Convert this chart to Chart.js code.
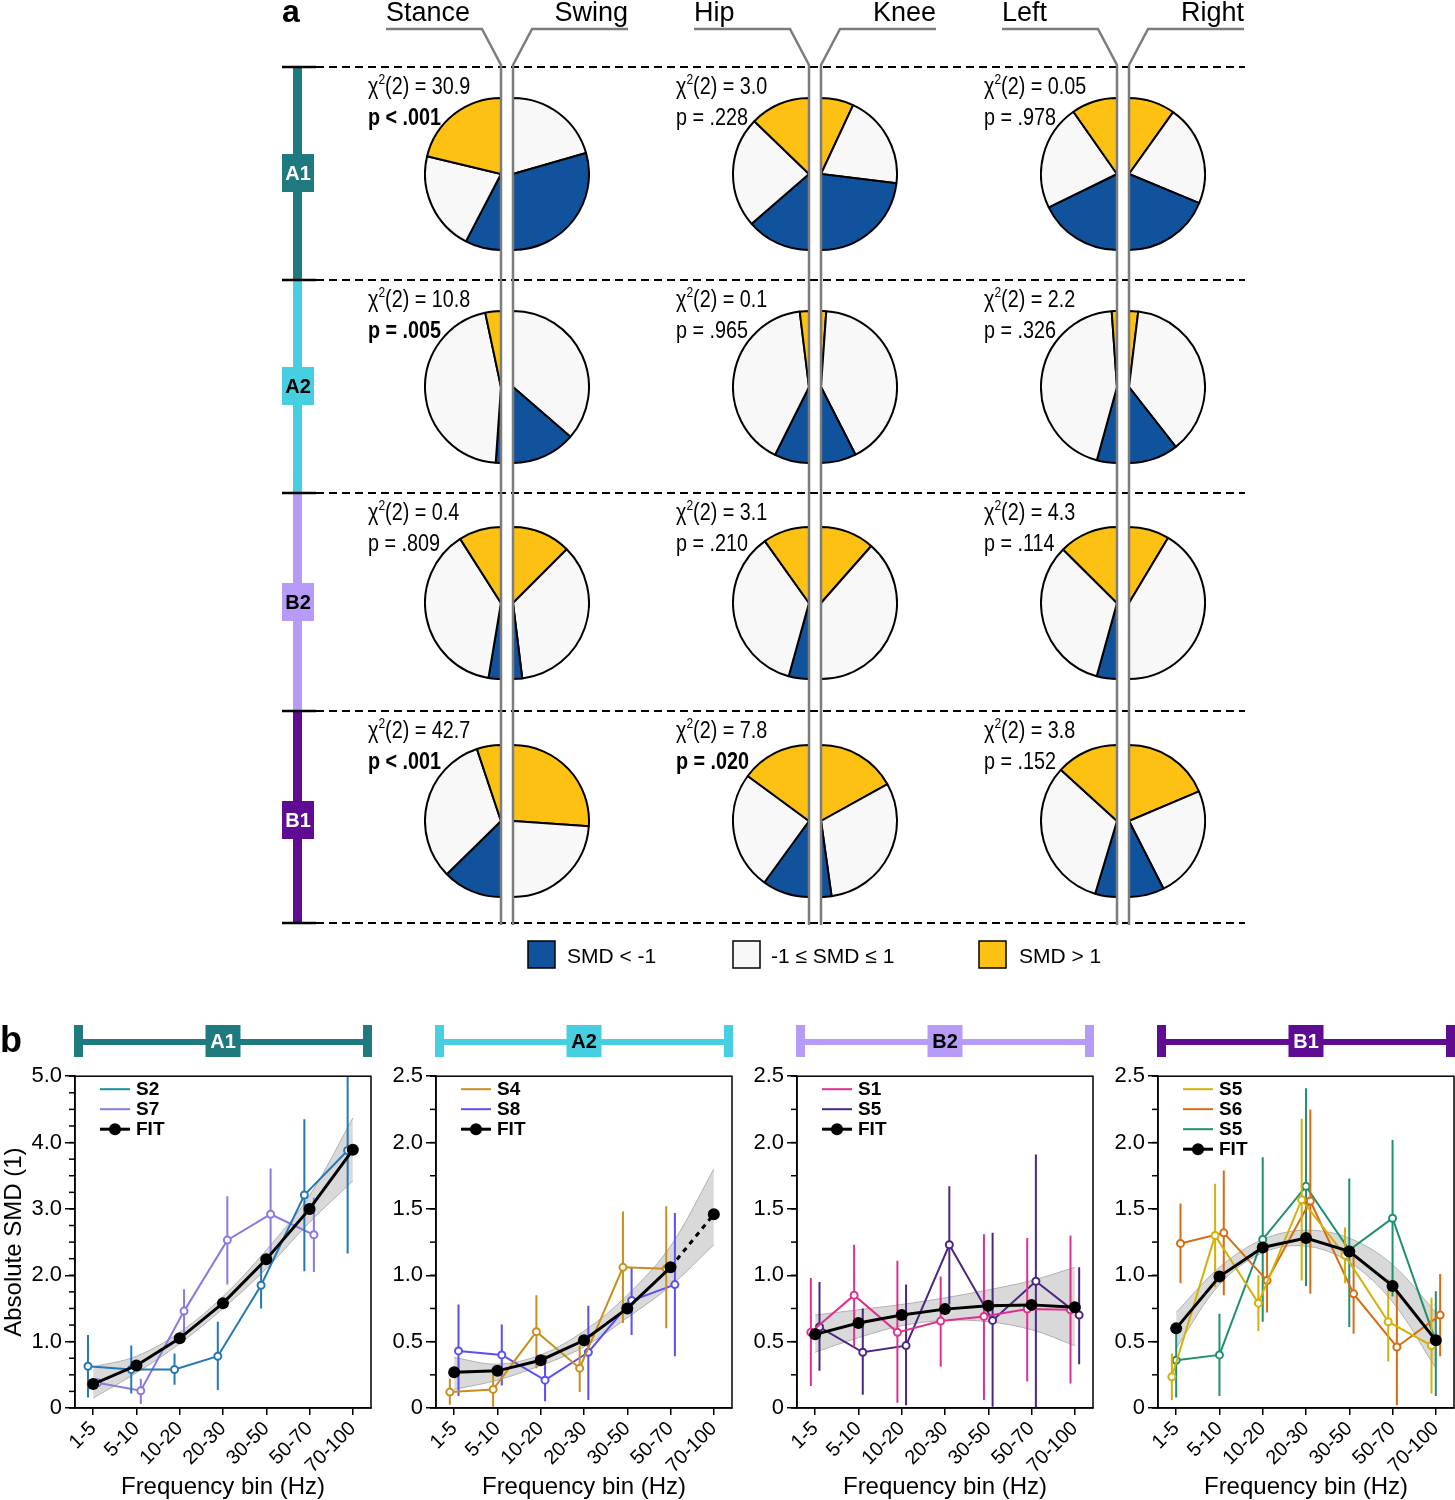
<!DOCTYPE html>
<html>
<head>
<meta charset="utf-8">
<script src="https://cdn.jsdelivr.net/npm/chart.js@4.4.1/dist/chart.umd.min.js"></script>
<style>
body { margin: 0; background: #fff; width: 1455px; height: 1500px; position: relative; overflow: hidden; }
canvas { position: absolute; }
#deco { position: absolute; left: 0; top: 0; z-index: 5; pointer-events: none; font-family: "Liberation Sans", Arial, sans-serif; }
</style>
</head>
<body>
<svg id="deco" width="1455" height="1500" xmlns="http://www.w3.org/2000/svg"></svg>
<script>
// ---- part a data: each half pie as [SMD < -1, -1..1, SMD > 1], degrees of the half circle
const groups = ['A1', 'A2', 'B2', 'B1'];
const groupColors = ['#1f7a80', '#45cfe0', '#b69bf9', '#5f0c92'];
const groupTextColors = ['#fff', '#000', '#000', '#fff'];
const pairNames = [['Stance', 'Swing'], ['Hip', 'Knee'], ['Left', 'Right']];
const pieColors = ['#10539c', '#f8f8f8', '#fdc114'];
const pieLabels = ['SMD < -1', '-1 ≤ SMD ≤ 1', 'SMD > 1'];

const stance = [[27.5, 76, 76.5], [4, 164, 12], [9.5, 138, 32.5], [45.5, 116, 18.5]];
const swing = [[106, 74, 0], [49, 131, 0], [7, 128, 45], [0, 86, 94]];
const hip = [[49, 85, 46], [26.6, 146.4, 7], [15.5, 129, 35.5], [36, 90.3, 53.7]];
const knee = [[83, 72, 25], [27, 149, 4], [0, 138.6, 41.4], [8, 111, 61]];
const leftSide = [[64, 81, 35], [15.4, 160.6, 4], [15.5, 119.3, 45.2], [16.7, 115.6, 47.7]];
const rightSide = [[67.5, 77, 35.5], [38, 135, 7], [0, 149, 31], [27, 86, 67]];

const chiStance = ['30.9', '10.8', '0.4', '42.7'];
const pStance = ['p < .001', 'p = .005', 'p = .809', 'p < .001'];
const chiHip = ['3.0', '0.1', '3.1', '7.8'];
const pHip = ['p = .228', 'p = .965', 'p = .210', 'p = .020'];
const chiSide = ['0.05', '2.2', '4.3', '3.8'];
const pSide = ['p = .978', 'p = .326', 'p = .114', 'p = .152'];

// ---- part b data
const bins = ['1-5', '5-10', '10-20', '20-30', '30-50', '50-70', '70-100'];

const a1Fit = [0.36, 0.64, 1.05, 1.58, 2.24, 3.0, 3.89];
const a1Lo = [0.15, 0.53, 0.97, 1.5, 2.1, 2.8, 3.42];
const a1Hi = [0.62, 0.78, 1.14, 1.68, 2.38, 3.2, 4.37];
const a1S2 = [0.63, 0.58, 0.58, 0.78, 1.85, 3.21, 3.88];
const a1S2Err = [[0.16, 1.1], [0.22, 0.94], [0.35, 0.82], [0.27, 1.3], [1.5, 2.15], [2.06, 4.35], [2.33, 5.3]];
const a1S7 = [0.38, 0.26, 1.46, 2.53, 2.92, 2.61, null];
const a1S7Err = [null, [0.06, 0.44], [1.09, 1.79], [1.86, 3.19], [2.25, 3.61], [2.05, 3.17], null];

const a2Fit = [0.27, 0.28, 0.36, 0.51, 0.75, 1.06, 1.46];
const a2Lo = [0.14, 0.21, 0.32, 0.46, 0.68, 0.92, 1.23];
const a2Hi = [0.38, 0.33, 0.40, 0.58, 0.85, 1.22, 1.80];
const a2S4 = [0.12, 0.14, 0.575, 0.30, 1.06, 1.05, null];
const a2S4Err = [[0.025, 0.22], [0.01, 0.26], [0.3, 0.85], [0.12, 0.47], [0.64, 1.48], [0.6, 1.52], null];
const a2S8 = [0.43, 0.40, 0.21, 0.42, 0.81, 0.93, null];
const a2S8Err = [[0.09, 0.78], [0.17, 0.63], [0.05, 0.4], [0.06, 0.77], [0.55, 1.06], [0.39, 1.47], null];

const b2Fit = [0.555, 0.64, 0.70, 0.745, 0.77, 0.777, 0.76];
const b2Lo = [0.42, 0.53, 0.62, 0.66, 0.65, 0.59, 0.47];
const b2Hi = [0.70, 0.74, 0.78, 0.83, 0.89, 0.96, 1.06];
const b2S1 = [0.57, 0.85, 0.57, 0.655, 0.69, 0.745, 0.74];
const b2S1Err = [[0.165, 0.98], [0.46, 1.23], [0.04, 1.11], [0.31, 0.99], [0.06, 1.31], [0.2, 1.28], [0.185, 1.3]];
const b2S5 = [0.61, 0.42, 0.47, 1.23, 0.66, 0.955, 0.70];
const b2S5Err = [[0.28, 0.95], [0.1, 0.75], [0.02, 0.93], [0.78, 1.67], [0.01, 1.32], [0, 1.91], [0.33, 1.06]];

const b1Fit = [0.6, 0.99, 1.21, 1.28, 1.18, 0.92, 0.51];
const b1Lo = [0.45, 0.93, 1.17, 1.22, 1.1, 0.8, 0.3];
const b1Hi = [0.72, 1.06, 1.27, 1.34, 1.28, 1.08, 0.72];
const b1S5a = [0.235, 1.3, 0.79, 1.57, 1.15, 0.65, 0.47];
const b1S5aErr = [[0.06, 0.41], [0.91, 1.69], [0.58, 1.0], [0.96, 2.18], [0.94, 1.36], [0.35, 0.97], [0.11, 0.83]];
const b1S6 = [1.24, 1.32, 0.96, 1.56, 0.86, 0.46, 0.70];
const b1S6Err = [[0.94, 1.54], [0.85, 1.79], [0.72, 1.22], [0.86, 2.25], [0.56, 1.15], [0.02, 0.88], [0.39, 1.01]];
const b1S5b = [0.36, 0.40, 1.27, 1.67, 1.19, 1.43, 0.5];
const b1S5bErr = [[0.08, 0.58], [0.09, 0.71], [0.65, 1.89], [0.92, 2.41], [0.61, 1.73], [0.84, 2.02], [0.09, 0.88]];

// ---- layout
const FONT = '"Liberation Sans", Arial, sans-serif';
Chart.defaults.font.family = FONT;
Chart.defaults.color = '#000';

const R = 76;
const flatL = [501, 809, 1117];
const flatR = [513, 821, 1129];
const rowTop = [67, 280, 493, 711, 923];
const pieY = [174, 387, 603, 821];
const plotLefts = [75, 436, 797, 1158];
const plotW = 296;

// ---- half pies
function halfPie(edge, cy, vals, side) {
  const cv = document.createElement('canvas');
  const W = R + 2, H = 2 * R + 2;
  cv.width = W; cv.height = H;
  cv.style.left = (side === 'left' ? edge - W + 1 : edge - 1) + 'px';
  cv.style.top = (cy - R - 1) + 'px';
  document.body.appendChild(cv);
  const left = side === 'left';
  new Chart(cv, {
    type: 'pie',
    data: {
      labels: left ? pieLabels : pieLabels.slice().reverse(),
      datasets: [{
        data: left ? vals : vals.slice().reverse(),
        backgroundColor: left ? pieColors : pieColors.slice().reverse(),
        borderColor: '#000',
        borderWidth: 2
      }]
    },
    options: {
      responsive: false, animation: false, events: [],
      rotation: left ? 180 : 0,
      circumference: 180,
      plugins: { legend: { display: false }, tooltip: { enabled: false } }
    }
  });
}

const leftHalves = [stance, hip, leftSide];
const rightHalves = [swing, knee, rightSide];
for (let c = 0; c < 3; c++) {
  for (let r = 0; r < 4; r++) {
    halfPie(flatL[c], pieY[r], leftHalves[c][r], 'left');
    halfPie(flatR[c], pieY[r], rightHalves[c][r], 'right');
  }
}

// ---- line charts (part b)
const errorBars = {
  id: 'errorBars',
  beforeDatasetDraw(chart, args) {
    const ds = chart.data.datasets[args.index];
    if (!ds.err) return;
    const { ctx, chartArea: a, scales: { x, y } } = chart;
    ctx.save();
    ctx.beginPath();
    ctx.rect(a.left, a.top, a.right - a.left, a.bottom - a.top);
    ctx.clip();
    ctx.strokeStyle = ds.borderColor;
    ctx.lineWidth = 2;
    ds.err.forEach((e, k) => {
      if (!e) return;
      const px = x.getPixelForValue(ds.data[k].x);
      ctx.beginPath();
      ctx.moveTo(px, y.getPixelForValue(e[0]));
      ctx.lineTo(px, y.getPixelForValue(e[1]));
      ctx.stroke();
    });
    ctx.restore();
  }
};

const frameTicks = {
  id: 'frameTicks',
  afterDraw(chart, args, opts) {
    const { ctx, chartArea: a, scales: { y } } = chart;
    ctx.save();
    ctx.strokeStyle = '#000';
    ctx.lineWidth = 1.5;
    for (let v = 0; v <= opts.max + 1e-9; v += opts.step) {
      const py = y.getPixelForValue(v);
      ctx.beginPath(); ctx.moveTo(a.left - 6, py); ctx.lineTo(a.left, py); ctx.stroke();
    }
    ctx.strokeRect(a.left, a.top, a.right - a.left, a.bottom - a.top);
    ctx.restore();
  }
};

const inLegend = {
  id: 'inLegend',
  afterDraw(chart, args, opts) {
    const { ctx, chartArea: a } = chart;
    ctx.save();
    ctx.font = 'bold 19px ' + FONT;
    ctx.textBaseline = 'middle';
    opts.items.forEach((it, k) => {
      const yy = a.top + 13 + 20 * k;
      ctx.strokeStyle = it.color;
      ctx.lineWidth = it.fit ? 3 : 2;
      ctx.beginPath(); ctx.moveTo(a.left + 25, yy); ctx.lineTo(a.left + 55, yy); ctx.stroke();
      if (it.fit) {
        ctx.fillStyle = '#000';
        ctx.beginPath(); ctx.arc(a.left + 40, yy, 6, 0, 2 * Math.PI); ctx.fill();
      }
      ctx.fillStyle = '#000';
      ctx.fillText(it.label, a.left + 61, yy + 1);
    });
    ctx.restore();
  }
};

const pts = (vals, dx) => vals.map((v, k) => ({ x: k + dx, y: v }));

function smdChart(idx, spec) {
  const cv = document.createElement('canvas');
  cv.width = 75 + plotW + 8; cv.height = 442;
  cv.style.left = (plotLefts[idx] - 75) + 'px';
  cv.style.top = '1060px';
  document.body.appendChild(cv);

  const datasets = [{
    label: 'FIT', data: pts(spec.fit, 0),
    borderColor: '#000', borderWidth: 3,
    pointRadius: 6, pointBackgroundColor: '#000', pointBorderWidth: 0,
    segment: spec.dashLast ? { borderDash: c => c.p1DataIndex === 6 ? [5, 5] : undefined } : undefined
  }];
  spec.series.forEach(s => datasets.push({
    label: s.label, data: pts(s.vals, s.dx), err: s.err,
    borderColor: s.color, borderWidth: 2,
    pointRadius: 3.5, pointBackgroundColor: '#fff', pointBorderColor: s.color, pointBorderWidth: 2
  }));
  datasets.push({ label: 'lo', data: pts(spec.lo, 0), borderColor: '#b0b0b0', borderWidth: 1, pointRadius: 0, tension: 0.35, fill: false });
  datasets.push({ label: 'hi', data: pts(spec.hi, 0), borderColor: '#b0b0b0', borderWidth: 1, pointRadius: 0, tension: 0.35, fill: '-1', backgroundColor: 'rgba(165,165,165,0.42)' });

  const majors = [];
  for (let v = 0; v <= spec.max + 1e-9; v += spec.major) majors.push(+v.toFixed(2));
  const legendItems = spec.series.map(s => ({ label: s.label, color: s.legendColor || s.color }));
  legendItems.push({ label: 'FIT', color: '#000', fit: true });

  new Chart(cv, {
    type: 'line',
    data: { datasets },
    plugins: [errorBars, frameTicks, inLegend],
    options: {
      responsive: false, animation: false, events: [],
      layout: { padding: { top: 11, right: 8, left: 0, bottom: 0 } },
      plugins: {
        legend: { display: false }, tooltip: { enabled: false },
        frameTicks: { max: spec.max, step: 0.25 },
        inLegend: { items: legendItems }
      },
      scales: {
        x: {
          type: 'linear', min: -0.42, max: 6.42,
          afterBuildTicks: s => { s.ticks = bins.map((b, k) => ({ value: k })); },
          afterFit: s => { s.height = 94; },
          ticks: { callback: v => bins[v], minRotation: 45, maxRotation: 45, font: { size: 20 }, padding: 2, color: '#000' },
          grid: { drawOnChartArea: false, tickLength: 7, color: '#000', lineWidth: 1.5 },
          border: { color: '#000', width: 1.5 },
          title: { display: true, text: 'Frequency bin (Hz)', font: { size: 24 }, padding: 0, color: '#000' }
        },
        y: {
          min: 0, max: spec.max,
          afterBuildTicks: s => { s.ticks = majors.map(v => ({ value: v })); },
          afterFit: s => { s.width = 75; },
          ticks: { callback: v => v === 0 ? '0' : v.toFixed(1), font: { size: 22 }, padding: 3, color: '#000' },
          grid: { drawOnChartArea: false, tickLength: 10, color: '#000', lineWidth: 1.5 },
          border: { color: '#000', width: 1.5 },
          title: { display: idx === 0, text: 'Absolute SMD (1)', font: { size: 24 }, padding: 0, color: '#000' }
        }
      }
    }
  });
}

smdChart(0, { max: 5, major: 1, fit: a1Fit, lo: a1Lo, hi: a1Hi, series: [
  { label: 'S2', vals: a1S2, err: a1S2Err, dx: -0.12, color: '#2479b5', legendColor: '#178f96' },
  { label: 'S7', vals: a1S7, err: a1S7Err, dx: 0.1, color: '#8c78e0' }
] });
smdChart(1, { max: 2.5, major: 0.5, fit: a2Fit, lo: a2Lo, hi: a2Hi, dashLast: true, series: [
  { label: 'S4', vals: a2S4, err: a2S4Err, dx: -0.1, color: '#c98e1c' },
  { label: 'S8', vals: a2S8, err: a2S8Err, dx: 0.1, color: '#5a4ff5' }
] });
smdChart(2, { max: 2.5, major: 0.5, fit: b2Fit, lo: b2Lo, hi: b2Hi, series: [
  { label: 'S1', vals: b2S1, err: b2S1Err, dx: -0.1, color: '#e0308f' },
  { label: 'S5', vals: b2S5, err: b2S5Err, dx: 0.1, color: '#4b2780' }
] });
smdChart(3, { max: 2.5, major: 0.5, fit: b1Fit, lo: b1Lo, hi: b1Hi, series: [
  { label: 'S5', vals: b1S5a, err: b1S5aErr, dx: -0.1, color: '#d4b00a' },
  { label: 'S6', vals: b1S6, err: b1S6Err, dx: 0.1, color: '#d86c12' },
  { label: 'S5', vals: b1S5b, err: b1S5bErr, dx: 0, color: '#1f9070' }
] });

// ---- decorations (svg)
const esc = s => s.replace(/</g, '&lt;').replace(/>/g, '&gt;');
const ln = (x1, y1, x2, y2, col, w, extra = '') =>
  `<line x1="${x1}" y1="${y1}" x2="${x2}" y2="${y2}" stroke="${col}" stroke-width="${w}" ${extra}/>`;
const tx = (x, y, s, size, extra = '') => `<text x="${x}" y="${y}" font-size="${size}" ${extra}>${s}</text>`;
// narrow text for the statistics
const ntx = (x, y, inner, extra = '') =>
  `<text transform="translate(${x} ${y}) scale(0.86 1)" x="0" y="0" font-size="23" ${extra}>${inner}</text>`;
let svg = '';

svg += tx(282, 22, 'a', 32, 'font-weight="bold"');
svg += tx(0, 1052, 'b', 36, 'font-weight="bold"');

// row separators
rowTop.forEach(y => {
  svg += ln(316, y, 1245, y, '#000', 2, 'stroke-dasharray="8 5"');
});
// group bar
groups.forEach((g, r) => {
  svg += `<rect x="293" y="${rowTop[r]}" width="9" height="${rowTop[r + 1] - rowTop[r]}" fill="${groupColors[r]}"/>`;
  svg += `<rect x="282" y="${pieY[r] - 20}" width="32" height="38" fill="${groupColors[r]}"/>`;
  svg += tx(298, pieY[r] + 6, g, 20, `font-weight="bold" text-anchor="middle" fill="${groupTextColors[r]}"`);
});
rowTop.forEach(y => { svg += ln(282, y, 316, y, '#000', 2.5); });

// header connectors and separators
const chis = [chiStance, chiHip, chiSide];
const ps = [pStance, pHip, pSide];
for (let c = 0; c < 3; c++) {
  const L = flatL[c], Rr = flatR[c], g = '#7c7c7c';
  svg += `<polyline points="${L - 115},29 ${L - 19},29 ${L},65 ${L},925" fill="none" stroke="${g}" stroke-width="2.5"/>`;
  svg += `<polyline points="${Rr + 115},29 ${Rr + 19},29 ${Rr},65 ${Rr},925" fill="none" stroke="${g}" stroke-width="2.5"/>`;
  svg += tx(L - 115, 21, pairNames[c][0], 27);
  svg += tx(Rr + 115, 21, pairNames[c][1], 27, 'text-anchor="end"');
  for (let r = 0; r < 4; r++) {
    const x = L - 133, y = rowTop[r];
    svg += ntx(x, y + 27, `χ<tspan font-size="14" dy="-10">2</tspan><tspan dy="10">(2) = ${chis[c][r]}</tspan>`);
    const p = ps[c][r];
    const sig = p.includes('<') || parseFloat(p.split('=')[1]) < 0.05;
    svg += ntx(x, y + 58, esc(p), sig ? 'font-weight="bold"' : '');
  }
}

// pie legend
const legX = [528, 733, 979], legT = [567, 771, 1019];
pieLabels.forEach((lab, k) => {
  svg += `<rect x="${legX[k]}" y="941" width="27" height="27" fill="${pieColors[k]}" stroke="#000" stroke-width="1.5"/>`;
  svg += tx(legT[k], 963, esc(lab), 21);
});

// part b group bars
groups.forEach((g, k) => {
  const l = plotLefts[k], rgt = l + plotW, mid = l + plotW / 2, col = groupColors[k];
  svg += `<rect x="${l}" y="1039" width="${plotW}" height="6" fill="${col}"/>`;
  svg += `<rect x="${l - 1}" y="1025" width="9" height="32" fill="${col}"/>`;
  svg += `<rect x="${rgt - 8}" y="1025" width="9" height="32" fill="${col}"/>`;
  svg += `<rect x="${mid - 17.5}" y="1025" width="35" height="32" fill="${col}"/>`;
  svg += tx(mid, 1048, g, 20, `font-weight="bold" text-anchor="middle" fill="${groupTextColors[k]}"`);
});

document.getElementById('deco').innerHTML = svg;
</script>
</body>
</html>
